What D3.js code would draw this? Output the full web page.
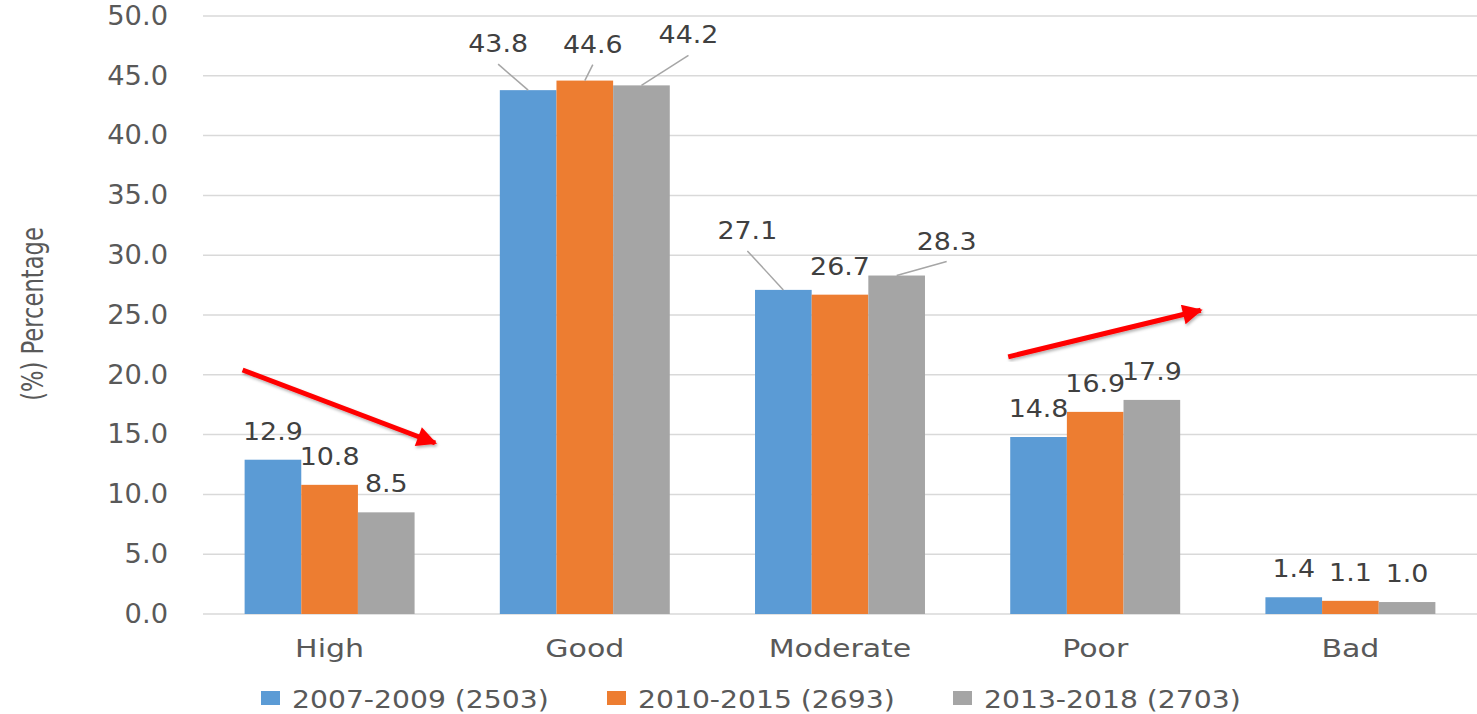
<!DOCTYPE html>
<html>
<head>
<meta charset="utf-8">
<script src="https://cdn.jsdelivr.net/npm/d3@7"></script>
<style>
  body { margin: 0; background: #fff; }
  text { font-family: "DejaVu Sans", Verdana, sans-serif; }
</style>
</head>
<body>
<div class="svgContainer"></div>
<script>
let categories = ["High", "Good", "Moderate", "Poor", "Bad"];
let seriesNames = ["2007-2009 (2503)", "2010-2015 (2693)", "2013-2018 (2703)"];
let values2007 = [12.9, 43.8, 27.1, 14.8, 1.4];
let values2010 = [10.8, 44.6, 26.7, 16.9, 1.1];
let values2013 = [8.5, 44.2, 28.3, 17.9, 1.0];
let yTicks = [0, 5, 10, 15, 20, 25, 30, 35, 40, 45, 50];
// trend arrows: category, start/end value
let trends = [
  { cat: "High", from: 20.4, to: 14.3 },
  { cat: "Poor", from: 21.5, to: 25.4 }
];

let colors = ["#5B9BD5", "#ED7D31", "#A5A5A5"];
let series = [values2007, values2010, values2013];

let width = 1477,
  height = 714;

// labels that Excel moved away from their bar (pixel offsets), key = series-category
let labelMoves = {
  "0-1": [-30, -18], "1-1": [8, -8], "2-1": [47, -22],
  "0-2": [-36, -31], "2-2": [50, -6]
};

let svg = d3
  .select(".svgContainer")
  .append("svg")
  .attr("width", width)
  .attr("height", height);

let x0 = d3
  .scaleBand()
  .domain(categories)
  .range([202, 1478])
  .paddingInner(0.334)
  .paddingOuter(0.167);

let x1 = d3
  .scaleBand()
  .domain([0, 1, 2])
  .range([0, x0.bandwidth()]);

let y = d3.scaleLinear().domain([0, 50]).range([614, 16]);

// the original text is a bit wider than DejaVu, so stretch it horizontally
function place(x, y, sx) {
  return "translate(" + x + "," + y + ") scale(" + sx + ",1)";
}

// gridlines
svg
  .append("g")
  .selectAll("line")
  .data(yTicks)
  .enter()
  .append("line")
  .attr("x1", 203)
  .attr("x2", 1477)
  .attr("y1", d => y(d))
  .attr("y2", d => y(d))
  .attr("stroke", "#D9D9D9")
  .attr("stroke-width", 1.5);

// y axis
let yAxis = d3
  .axisLeft(y)
  .tickValues(yTicks)
  .tickFormat(d3.format(".1f"))
  .tickSize(0)
  .tickPadding(0);

let yAxisGroup = svg
  .append("g")
  .attr("transform", "translate(168, 0)")
  .call(yAxis);
yAxisGroup.select(".domain").remove();
yAxisGroup
  .selectAll("text")
  .attr("fill", "#595959")
  .attr("transform", "scale(1.05,1)")
  .style("font-size", "26px")
  .style("font-family", "DejaVu Sans");

// x axis
let xAxis = d3.axisBottom(x0).tickSize(0).tickPadding(0);
let xAxisGroup = svg
  .append("g")
  .attr("transform", "translate(0, 639)")
  .call(xAxis);
xAxisGroup.select(".domain").remove();
xAxisGroup
  .selectAll("text")
  .attr("fill", "#595959")
  .attr("dy", "0.71em")
  .attr("transform", "scale(1.2,1)")
  .style("font-size", "25px")
  .style("font-family", "DejaVu Sans");

// y title
svg
  .append("text")
  .attr("transform", "translate(43, 314) rotate(-90) scale(0.84,1)")
  .attr("text-anchor", "middle")
  .attr("fill", "#595959")
  .style("font-family", "'Liberation Sans Narrow', 'DejaVu Sans Condensed', sans-serif")
  .style("font-size", "30px")
  .text("(%) Percentage");

// bars
let groups = svg
  .append("g")
  .selectAll("g")
  .data(categories)
  .enter()
  .append("g")
  .attr("transform", d => "translate(" + x0(d) + ",0)");

let cells = groups
  .selectAll("g")
  .data((c, ci) => series.map((s, si) => ({ si: si, ci: ci, v: s[ci] })))
  .enter()
  .append("g");

cells
  .append("rect")
  .attr("x", d => x1(d.si))
  .attr("y", d => y(d.v))
  .attr("width", x1.bandwidth())
  .attr("height", d => y(0) - y(d.v))
  .attr("fill", d => colors[d.si]);

function labelPos(d) {
  let m = labelMoves[d.si + "-" + d.ci] || [0, 0];
  return [x1(d.si) + x1.bandwidth() / 2 + m[0], y(d.v) - 20 + m[1]];
}

// leader lines
cells
  .filter(d => labelMoves[d.si + "-" + d.ci])
  .append("line")
  .attr("x1", d => labelPos(d)[0])
  .attr("y1", d => labelPos(d)[1] + 12)
  .attr("x2", d => x1(d.si) + x1.bandwidth() / 2)
  .attr("y2", d => y(d.v))
  .attr("stroke", "#A6A6A6")
  .attr("stroke-width", 1.5);

cells
  .append("text")
  .attr("transform", d => place(labelPos(d)[0], labelPos(d)[1], 1.12))
  .attr("text-anchor", "middle")
  .attr("fill", "#404040")
  .style("font-size", "24px")
  .text(d => d.v.toFixed(1));

// trend arrows
let defs = svg.append("defs");
defs
  .append("marker")
  .attr("id", "head")
  .attr("viewBox", "0 0 10 10")
  .attr("refX", 9)
  .attr("refY", 5)
  .attr("markerWidth", 5)
  .attr("markerHeight", 4)
  .attr("orient", "auto")
  .attr("markerUnits", "strokeWidth")
  .append("path")
  .attr("d", "M0,0 L10,5 L0,10 Z")
  .attr("fill", "#FF0000");
let shadow = defs.append("filter").attr("id", "shadow");
shadow
  .append("feDropShadow")
  .attr("dx", 1)
  .attr("dy", 2)
  .attr("stdDeviation", 1.5)
  .attr("flood-color", "#000")
  .attr("flood-opacity", 0.3);

svg
  .append("g")
  .selectAll("line")
  .data(trends)
  .enter()
  .append("line")
  .attr("x1", d => x0(d.cat) - 2)
  .attr("x2", d => x0(d.cat) + x0.step() * 0.77 - 6)
  .attr("y1", d => y(d.from))
  .attr("y2", d => y(d.to))
  .attr("stroke", "#FF0000")
  .attr("stroke-width", 5)
  .attr("marker-end", "url(#head)")
  .attr("filter", "url(#shadow)");

// legend
let legend = svg
  .append("g")
  .selectAll("g")
  .data(seriesNames)
  .enter()
  .append("g")
  .attr("transform", (d, i) => "translate(" + (261 + i * 346) + ", 691)");

legend
  .append("rect")
  .attr("width", 19)
  .attr("height", 14)
  .attr("fill", (d, i) => colors[i]);

legend
  .append("text")
  .attr("transform", place(31, 17, 1.13))
  .attr("fill", "#595959")
  .style("font-size", "25px")
  .text(d => d);
</script>
</body>
</html>
